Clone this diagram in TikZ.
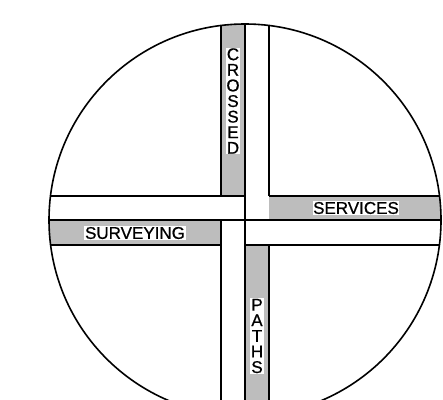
\documentclass[tikz,border=0pt]{standalone}
\usepackage{fontspec}
\setmainfont{Liberation Sans}
\newfontfamily\lblfont{Liberation Sans}[BoldFont={Liberation Sans},BoldFeatures={FakeBold=0.7}]
\definecolor{roadgrey}{HTML}{BDBDBD}
\begin{document}
\begin{tikzpicture}[x=1pt,y=-1pt,
  edge/.style={line width=1.6pt,black},
  lbl/.style={fill=white,inner sep=0.6pt,font=\lblfont\bfseries\fontsize{17}{15.6}\selectfont,align=center},
  ]
\useasboundingbox (0,0) rectangle (443,399);
\begin{scope}
\clip (0,0) rectangle (443,399);
\begin{scope}
\clip (245,220) circle (196);
% grey strips
\fill[roadgrey] (221,0) rectangle (245,196);
\fill[roadgrey] (269,196) rectangle (450,220);
\fill[roadgrey] (245,245) rectangle (269,430);
\fill[roadgrey] (0,220) rectangle (221,245);
% vertical lines
\draw[edge] (221,0) -- (221,196);
\draw[edge] (221,220) -- (221,430);
\draw[edge] (245,0) -- (245,430);
\draw[edge] (269,0) -- (269,196);
\draw[edge] (269,245) -- (269,430);
% horizontal lines
\draw[edge] (0,196) -- (245,196);
\draw[edge] (269,196) -- (450,196);
\draw[edge] (0,220) -- (450,220);
\draw[edge] (0,245) -- (221,245);
\draw[edge] (245,245) -- (450,245);
\end{scope}
\draw[edge] (245,220) circle (196);
\end{scope}
% labels
\node[lbl] (crossed) at (233,101) {C\\R\\O\\S\\S\\E\\D};
\node[lbl] (paths) at (257,336) {P\\A\\T\\H\\S};
\node[lbl] (surveying) at (135,233) {SURVEYING};
\node[lbl] (services) at (356,208) {SERVICES};
\end{tikzpicture}
\end{document}
